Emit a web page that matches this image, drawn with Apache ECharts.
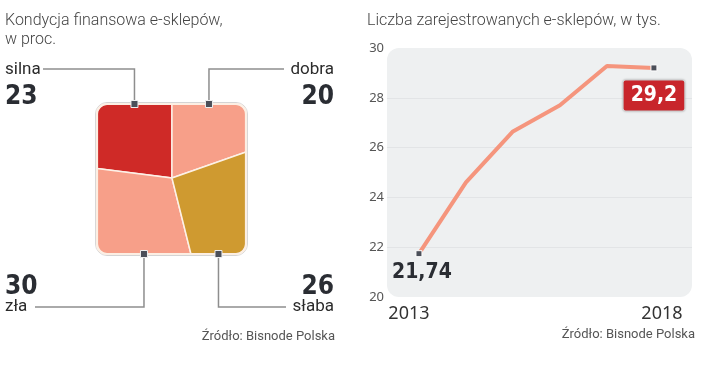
<!DOCTYPE html>
<html><head><meta charset="utf-8">
<script src="https://cdn.jsdelivr.net/npm/echarts@6/dist/echarts.min.js"></script>
<style>html,body{margin:0;padding:0;background:#fff}#c{width:720px;height:366px}</style>
</head><body><div id="c"></div>
<script>
// ---------- data: left panel ----------
const conditionNames = ['silna', 'dobra', 'zła', 'słaba'];
const conditionValues = [23, 20, 30, 26];
// ---------- data: right panel ----------
const years = [2013, 2014, 2015, 2016, 2017, 2018];
const shopCounts = [21.74, 24.6, 26.65, 27.7, 29.28, 29.2];
const yearTickLabels = [2013, 2018];

// ---------- styles / layout ----------
const CELL_COLORS = ['#cf2a27', '#f79f89', '#f79f89', '#cf9a30'];
const NUM_FONT = "'Liberation Sans Narrow','DejaVu Sans Condensed',Roboto,sans-serif";
const TXT_FONT = "Roboto,'Noto Sans',sans-serif";
const SQ = {left: 97, top: 104, width: 149, height: 150};
const PLOT = {left: 387, top: 48, width: 305, height: 249};
const CX = 0.503, CY = 0.493; // centre of the cell layout (style)
const LABEL_LAYOUT = [
  {align: 'left',  x: 5,   lineY: 69,  lineEnd: 43,  nameY: 70,  valY: 97},
  {align: 'right', x: 334, lineY: 69,  lineEnd: 284, nameY: 70,  valY: 97},
  {align: 'left',  x: 5,   lineY: 307, lineEnd: 35,  nameY: 307, valY: 287},
  {align: 'right', x: 334, lineY: 307, lineEnd: 286, nameY: 307, valY: 287}
];

function cellGeometry() {
  const total = conditionValues.reduce((a, b) => a + b, 0);
  const s = conditionValues.map(v => v / total);
  const yl = 2 * s[0] / CX - CY;
  const yr = 2 * s[1] / (1 - CX) - CY;
  const xb = (2 * s[2] - CX * (1 - yl)) / (1 - CY);
  return [
    {pts: [[0, 0], [CX, 0], [CX, CY], [0, yl]], corner: 0, edge: [[0, 0], [CX, 0]]},
    {pts: [[CX, 0], [1, 0], [1, yr], [CX, CY]], corner: 1, edge: [[CX, 0], [1, 0]]},
    {pts: [[0, yl], [CX, CY], [xb, 1], [0, 1]], corner: 3, edge: [[0, 1], [xb, 1]]},
    {pts: [[CX, CY], [1, yr], [1, 1], [xb, 1]], corner: 2, edge: [[xb, 1], [1, 1]]}
  ];
}
function unit(a, b) {
  const dx = b[0] - a[0], dy = b[1] - a[1], l = Math.hypot(dx, dy) || 1;
  return [dx / l, dy / l];
}

function renderCell(params, api) {
  const i = params.dataIndex;
  const g = cellGeometry()[i];
  const px = g.pts.map(p => api.coord(p));
  const ci = g.corner, n = px.length;
  const P = px[ci], A = px[(ci + n - 1) % n], B = px[(ci + 1) % n];
  const R = 10;
  const uA = unit(P, A), uB = unit(P, B);
  const C = [P[0] + R * uA[0] + R * uB[0], P[1] + R * uA[1] + R * uB[1]];
  const arc = [];
  for (let k = 0; k <= 10; k++) {
    const t = k / 10 * Math.PI / 2;
    arc.push([C[0] - R * (uB[0] * Math.cos(t) + uA[0] * Math.sin(t)),
              C[1] - R * (uB[1] * Math.cos(t) + uA[1] * Math.sin(t))]);
  }
  const pts = px.slice(0, ci).concat(arc, px.slice(ci + 1));
  const children = [{
    type: 'polygon', shape: {points: pts}, z2: 1,
    style: {fill: CELL_COLORS[i], stroke: '#fdf1e7', lineWidth: 1.5}
  }];
  if (i === 0) {
    const tl = api.coord([0, 0]), br = api.coord([1, 1]);
    children.push({type: 'rect', z2: 9,
      shape: {x: tl[0] - 1.5, y: tl[1] - 1.5, width: br[0] - tl[0] + 3, height: br[1] - tl[1] + 3, r: 11.5},
      style: {fill: null, stroke: '#d4d4d4', lineWidth: 1}});
    children.push({type: 'rect', z2: 10,
      shape: {x: tl[0], y: tl[1], width: br[0] - tl[0], height: br[1] - tl[1], r: 10},
      style: {fill: null, stroke: '#fcefe4', lineWidth: 2.2}});
  }
  const e0 = api.coord(g.edge[0]), e1 = api.coord(g.edge[1]);
  const m = [(e0[0] + e1[0]) / 2, (e0[1] + e1[1]) / 2];
  const L = LABEL_LAYOUT[i];
  children.push({type: 'polyline', z2: 11,
    shape: {points: [m, [m[0], L.lineY], [L.lineEnd, L.lineY]]},
    style: {fill: null, stroke: '#8e8e8e', lineWidth: 1.5}});
  children.push({type: 'rect', z2: 12,
    shape: {x: m[0] - 3.5, y: m[1] - 3.5, width: 7, height: 7},
    style: {fill: '#4b4f59', stroke: '#eeeeee', lineWidth: 1}});
  children.push({type: 'text', z2: 12, x: L.x, y: L.nameY,
    style: {text: conditionNames[i], font: '17px ' + TXT_FONT, fill: '#2b2b2b', align: L.align, verticalAlign: 'middle'}});
  children.push({type: 'text', z2: 12, x: L.x, y: L.valY,
    style: {text: String(api.value(1)), font: 'bold 26px ' + NUM_FONT, fill: '#2a2d33', align: L.align, verticalAlign: 'middle'}});
  return {type: 'group', children: children};
}

const chart = echarts.init(document.getElementById('c'), null, {renderer: 'canvas'});
const lastIdx = years.length - 1;
const option = {
  animation: false,
  grid: [
    {left: SQ.left, top: SQ.top, width: SQ.width, height: SQ.height, show: false},
    {left: PLOT.left, top: PLOT.top, width: PLOT.width, height: PLOT.height, show: false}
  ],
  xAxis: [
    {gridIndex: 0, type: 'value', min: 0, max: 1, show: false},
    {gridIndex: 1, type: 'value', min: 2012.32, max: 2018.81,
     axisLine: {show: false}, axisTick: {show: false}, splitLine: {show: false},
     axisLabel: {
       customValues: yearTickLabels, margin: 8, color: '#333', fontSize: 18, fontFamily: "'Noto Sans',sans-serif",
       formatter: v => v === yearTickLabels[0] ? '{a|' + v + '}' : (v === yearTickLabels[1] ? '{b|' + v + '}' : ''),
       rich: {
         a: {padding: [0, 20, 0, 0], color: '#333', fontSize: 18, fontFamily: "'Noto Sans',sans-serif"},
         b: {padding: [0, 0, 0, 16], color: '#333', fontSize: 18, fontFamily: "'Noto Sans',sans-serif"}
       }
     }}
  ],
  yAxis: [
    {gridIndex: 0, type: 'value', min: 0, max: 1, inverse: true, show: false},
    {gridIndex: 1, type: 'value', min: 20, max: 30, interval: 2,
     axisLine: {show: false}, axisTick: {show: false},
     axisLabel: {margin: 3, color: '#555', fontSize: 13, fontFamily: "'Noto Sans',sans-serif"},
     splitLine: {show: true, showMinLine: false, showMaxLine: false, lineStyle: {color: '#e2e4e6', width: 1}}}
  ],
  graphic: [
    {type: 'rect', z: -1, shape: {x: PLOT.left, y: PLOT.top, width: PLOT.width, height: PLOT.height, r: 12},
     style: {fill: '#eef0f1'}},
    {type: 'text', x: 5, y: 20.5, style: {text: 'Kondycja finansowa e-sklepów,', font: '300 16px ' + TXT_FONT, fill: '#444', verticalAlign: 'middle'}},
    {type: 'text', x: 5, y: 39.5, style: {text: 'w proc.', font: '300 16px ' + TXT_FONT, fill: '#444', verticalAlign: 'middle'}},
    {type: 'text', x: 367, y: 20.5, style: {text: 'Liczba zarejestrowanych e-sklepów, w tys.', font: '300 16px ' + TXT_FONT, fill: '#444', verticalAlign: 'middle'}},
    {type: 'text', x: 335, y: 337, style: {text: 'Źródło: Bisnode Polska', font: '13px ' + TXT_FONT, fill: '#555', align: 'right', verticalAlign: 'middle'}},
    {type: 'text', x: 695, y: 335, style: {text: 'Źródło: Bisnode Polska', font: '13px ' + TXT_FONT, fill: '#555', align: 'right', verticalAlign: 'middle'}}
  ],
  series: [
    {type: 'custom', xAxisIndex: 0, yAxisIndex: 0, renderItem: renderCell,
     data: conditionValues.map((v, i) => [i / 3, v])},
    {type: 'line', xAxisIndex: 1, yAxisIndex: 1, z: 3,
     lineStyle: {color: '#f5957d', width: 4},
     symbol: 'rect', symbolSize: 6,
     itemStyle: {color: '#4b4f59', borderColor: '#ffffff', borderWidth: 1},
     data: years.map((y, i) => {
       const item = {value: [y, shopCounts[i]]};
       if (i !== 0 && i !== lastIdx) item.symbol = 'none';
       if (i === 0) item.label = {show: true, position: 'bottom', distance: 5, offset: [3, 0],
         formatter: p => String(p.value[1]).replace('.', ','),
         fontFamily: NUM_FONT, fontWeight: 'bold', fontSize: 21, color: '#2a2d33'};
       if (i === lastIdx) item.label = {show: true, position: 'bottom', distance: 9,
         formatter: p => String(p.value[1]).replace('.', ','),
         fontFamily: NUM_FONT, fontWeight: 'bold', fontSize: 21, lineHeight: 24, color: '#ffffff',
         backgroundColor: '#c8252b', padding: [3, 7, 3, 7], borderRadius: 2,
         borderColor: '#e0e0e0', borderWidth: 1, shadowColor: 'rgba(0,0,0,0.25)', shadowBlur: 2};
       return item;
     })}
  ]
};
chart.setOption(option);
</script></body></html>
